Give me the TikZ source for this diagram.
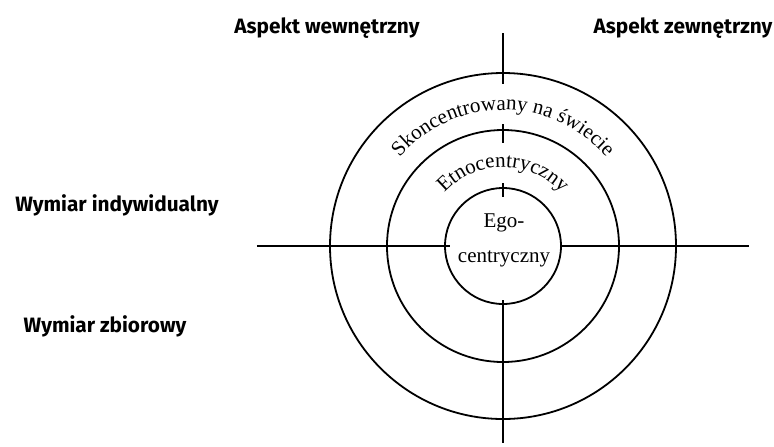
\documentclass[tikz,border=0pt]{standalone}
\usepackage{fontspec}
\setmainfont{Liberation Serif}
\newfontfamily\headfont{Fira Sans}
\usetikzlibrary{decorations.text}
\newcommand{\ringfont}{\fontsize{10.5}{12}\selectfont}
\tikzstyle{ring}      = [circle, draw=black, line width=0.9pt, inner sep=0pt]
\tikzstyle{axis}      = [draw=black, line width=0.9pt]
\tikzstyle{heading}   = [font=\headfont\bfseries\fontsize{10.4}{12}\selectfont, anchor=base, inner sep=0pt]
\tikzstyle{levelname} = [font=\fontsize{10.5}{17.5}\selectfont, align=center, inner sep=0pt]
\tikzstyle{arctext}   = [decorate, decoration={text along path, text align=center}]

\begin{document}
\begin{tikzpicture}[x=0.5pt, y=0.5pt]
    \useasboundingbox (-503,-200) rectangle (271,246);

    % rings
    \node (world)  [ring, minimum size=173pt] at (0,0) {};
    \node (ethno)  [ring, minimum size=116pt] at (0,0) {};
    \node (ego)    [ring, minimum size=58pt]  at (0,0) {};
    \node (egoname) [levelname] at (1,6) {Ego-\\centryczny};

    % headings
    \node (inside)     [heading] at (-176,213) {Aspekt wewnętrzny};
    \node (outside)    [heading] at (180,213)  {Aspekt zewnętrzny};
    \node (individual) [heading] at (-386,35)  {Wymiar indywidualny};
    \node (collective) [heading] at (-398,-86) {Wymiar zbiorowy};

    % axis ends
    \coordinate (ntop)  at (0,213);
    \coordinate (nbot)  at (0,162);
    \coordinate (mtop)  at (0,122);
    \coordinate (mbot)  at (0,103);
    \coordinate (itop)  at (0,63);
    \coordinate (ibot)  at (0,49);
    \coordinate (stop)  at (0,-54);
    \coordinate (sbot)  at (0,-197);
    \coordinate (wout)  at (-246,0);
    \coordinate (win)   at (-53,0);
    \coordinate (ein)   at (57,0);
    \coordinate (eout)  at (246,0);

    % axes
    \draw [axis] (ntop) -- (nbot);
    \draw [axis] (mtop) -- (mbot);
    \draw [axis] (itop) -- (ibot);
    \draw [axis] (stop) -- (sbot);
    \draw [axis] (wout) -- (win);
    \draw [axis] (ein)  -- (eout);

    % names along the rings
    \path [arctext, decoration={text={|\ringfont|Skoncentrowany na świecie}}]
        (-68pt,0) arc[start angle=180, end angle=0, radius=68pt];
    \path [arctext, decoration={text={|\ringfont|Etnocentryczny}}]
        (-39.5pt,0) arc[start angle=180, end angle=0, radius=39.5pt];
\end{tikzpicture}
\end{document}
